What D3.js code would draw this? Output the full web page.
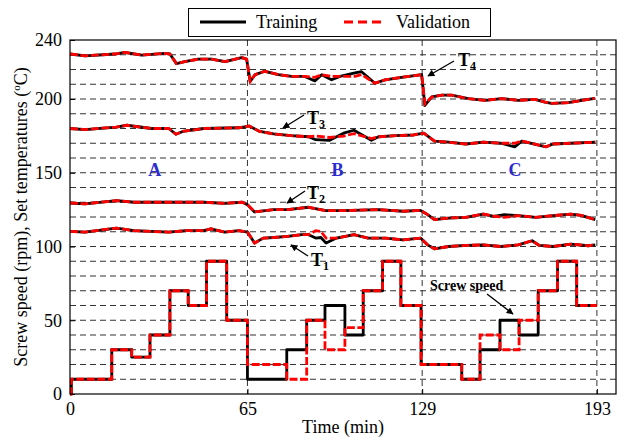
<!DOCTYPE html>
<html>
<head>
<meta charset="utf-8">
<script src="https://cdn.jsdelivr.net/npm/d3@7"></script>
<style>
  body { margin: 0; background: #fff; }
  svg text { font-family: "Liberation Serif", "Times New Roman", serif; }
</style>
</head>
<body>
<script>
// screw speed (rpm), step changes
var speedTime  = [0, 0.5, 15.3, 22.6, 29.3, 36.6, 43.3, 50, 57.4, 65, 79.4, 86.7, 93.4, 100.7, 107.4, 114.5, 121.2, 128.6, 143.5, 150.2, 157.5, 164.5, 171.5, 178.6, 185.6, 193];
var speedTrain = [0, 10, 30, 25, 40, 70, 60, 90, 50, 10, 30, 50, 60, 40, 70, 90, 60, 20, 10, 30, 50, 40, 70, 90, 60, 60];
var speedValid = [0, 10, 30, 25, 40, 70, 60, 90, 50, 20, 10, 50, 30, 45, 70, 90, 60, 20, 10, 40, 30, 50, 70, 90, 60, 60];

// T4
var t4Time  = [0, 5.5, 16.5, 20, 26.3, 34.8, 36.6, 39, 42, 47, 51.9, 56.8, 62.9, 64.7, 66, 67.8, 71.4, 76.3, 81.2, 86, 89.7, 92.2, 95.8, 98.9, 104.4, 106.8, 111.7, 115.4, 121.5, 128.8, 130, 132.5, 136.2, 139.8, 145.9, 152, 158.1, 164.2, 170.3, 174, 176.4, 182.5, 187.4, 192.3];
var t4Train = [230.5, 229.3, 230.5, 231.6, 229.8, 230.9, 230.5, 224, 225.3, 227, 227, 225.3, 228.1, 227, 211.9, 216.5, 218.8, 216.5, 215.3, 215.3, 212.3, 216.5, 213, 215.3, 217.7, 218.5, 210.7, 213, 214.7, 216.5, 195.6, 201.4, 202.6, 202.6, 200.2, 199.1, 200.2, 199.1, 199.8, 197.9, 197, 197.5, 199, 200.5];
var t4Valid = [230.5, 229.3, 230.5, 231.6, 229.8, 230.9, 230.5, 224, 225.3, 227, 227, 225.3, 228.1, 227, 211.9, 216.5, 218.8, 216.5, 215.3, 215.3, 214.7, 216.5, 215.3, 215.3, 215.3, 216.5, 210.7, 213, 214.7, 216.5, 196.7, 201.4, 202.6, 202.6, 200.2, 199.1, 200.2, 199.1, 199.8, 197.9, 197, 197.5, 199, 200.5];

// T3
var t3Time  = [0, 5.5, 17, 20.8, 29.8, 36.2, 38.8, 41.3, 49, 61.8, 64.4, 65.6, 69.5, 74.6, 81, 87.4, 90, 95.1, 100.2, 104, 110.4, 113, 119.4, 125.8, 129.6, 133.5, 138.6, 145, 151.4, 157.8, 162.9, 165.5, 174.4, 177, 183.4, 192.4];
var t3Train = [180, 179.3, 181, 182.2, 180, 180, 176.1, 178, 180, 180.5, 181.2, 181.7, 178, 176.3, 175.1, 174.4, 172.4, 172, 176.8, 178.8, 172, 174.4, 175.1, 175.6, 176.8, 171.5, 170.7, 169.5, 170.7, 170, 167.6, 171.5, 167.6, 169.5, 170, 170.7];
var t3Valid = [180, 179.3, 181, 182.2, 180, 180, 176.1, 178, 180, 180.5, 181.2, 181.7, 178, 176.3, 175.1, 174.4, 174.9, 173.9, 174.9, 176.5, 173.2, 174.4, 175.1, 175.6, 176.8, 171.5, 170.7, 169.5, 170.7, 170, 170, 171.5, 167.6, 169.5, 170, 170.7];

// T2
var t2Time  = [0, 5.5, 17, 23.4, 36.2, 49, 56.7, 63.1, 65, 67.6, 74.6, 79.7, 87.4, 93.8, 100.2, 113, 122, 128.4, 131, 133.5, 138.6, 145, 151.4, 155.2, 159.1, 164.2, 170.6, 177, 183.4, 187.2, 192.4];
var t2Train = [129.5, 128.9, 131.1, 130, 130, 130, 129.3, 130, 128.4, 123.4, 125, 125, 126.6, 124.3, 124.3, 125, 123.9, 124.5, 121.6, 118.2, 119.3, 119.8, 122, 120.5, 121.6, 120.9, 119.8, 120.9, 122, 121.1, 118.2];
var t2Valid = [129.5, 128.9, 131.1, 130, 130, 130, 129.3, 130, 128.4, 123.4, 125, 125, 126.6, 124.3, 124.3, 125, 123.9, 124.5, 121.6, 118.2, 119.3, 119.8, 122, 120.5, 119.8, 120.9, 119.8, 120.9, 122, 121.1, 118.2];

// T1
var t1Time  = [0, 5.5, 17, 23.4, 29.8, 36.2, 42.6, 49, 51.6, 56.7, 61.8, 65, 67.6, 70.8, 74.6, 79.7, 84.8, 87.4, 90, 91.9, 93.8, 97.6, 104, 109.2, 115.6, 122, 128.4, 131, 133.5, 138.6, 145, 151.4, 157.8, 164.2, 169.3, 171.9, 177, 183.4, 189.8, 192.4];
var t1Train = [110.2, 109.8, 112.5, 110.7, 110.2, 109.8, 110.7, 110.7, 112, 109.8, 110.7, 109.8, 102.3, 105.7, 106.1, 106.8, 108, 108, 105.7, 106.1, 102.3, 105.7, 108, 105.7, 105.7, 104.5, 105.7, 101.1, 98.4, 100, 100.7, 101.1, 100, 101.1, 103.9, 100.7, 100, 101.6, 100.5, 101.1];
var t1Valid = [110.2, 109.8, 112.5, 110.7, 110.2, 109.8, 110.7, 110.7, 112, 109.8, 110.7, 109.8, 102.3, 105.7, 106.1, 106.8, 108, 108, 110.7, 110.2, 105.7, 105.7, 108, 105.7, 105.7, 104.5, 105.7, 101.1, 98.4, 100, 100.7, 101.1, 100, 101.1, 103.9, 100.7, 100, 101.6, 100.5, 101.1];

var xTicks = [0, 65, 129, 193];
var yTicks = [0, 50, 100, 150, 200, 240];
var sectionNames = ["A", "B", "C"];
var sectionPos = [31, 98, 163];

var draw = function() {
  var margin = {top: 40, right: 9, bottom: 47, left: 70},
      width = 625 - margin.left - margin.right,
      height = 441 - margin.top - margin.bottom;

  var svg = d3.select("body").append("svg")
      .attr("width", 625)
      .attr("height", 441);

  var g = svg.append("g")
      .attr("transform", "translate(" + margin.left + "," + margin.top + ")");

  var x = d3.scaleLinear().domain([0, 200]).range([0, width]);
  var y = d3.scaleLinear().domain([0, 240]).range([height, 0]);

  // dashed grid
  g.append("g").selectAll("line")
      .data(d3.range(10, 240, 10))
    .enter().append("line")
      .attr("x1", 0).attr("x2", width)
      .attr("y1", function(d) { return y(d); })
      .attr("y2", function(d) { return y(d); })
      .attr("stroke", "#333")
      .attr("stroke-width", 1)
      .attr("stroke-dasharray", "6,4");

  g.append("g").selectAll("line")
      .data(xTicks.slice(1))
    .enter().append("line")
      .attr("x1", function(d) { return x(d); })
      .attr("x2", function(d) { return x(d); })
      .attr("y1", 0).attr("y2", height)
      .attr("stroke", "#333")
      .attr("stroke-width", 1)
      .attr("stroke-dasharray", "6,4");

  // axes
  var xAxis = g.append("g")
      .attr("transform", "translate(0," + height + ")")
      .call(d3.axisBottom(x).tickValues(xTicks).tickSizeInner(-5).tickSizeOuter(0).tickPadding(8));
  var yAxis = g.append("g")
      .call(d3.axisLeft(y).tickValues(yTicks).tickSizeInner(-5).tickSizeOuter(0).tickPadding(8));
  [xAxis, yAxis].forEach(function(a) {
    a.select(".domain").remove();
    a.selectAll("text")
      .attr("font-family", "Liberation Serif")
      .attr("font-size", 18)
      .attr("fill", "#000");
  });

  // lines
  var lineFor = function(times, vals, curve) {
    return d3.line()
      .x(function(d, i) { return x(times[i]); })
      .y(function(d) { return y(d); })
      .curve(curve)(vals);
  };

  var series = [
    [speedTime, speedTrain, speedValid, d3.curveStepAfter],
    [t4Time, t4Train, t4Valid, d3.curveLinear],
    [t3Time, t3Train, t3Valid, d3.curveLinear],
    [t2Time, t2Train, t2Valid, d3.curveLinear],
    [t1Time, t1Train, t1Valid, d3.curveLinear]
  ];

  for (var i = 0; i < series.length; i++) {
    g.append("path")
      .attr("d", lineFor(series[i][0], series[i][1], series[i][3]))
      .attr("fill", "none")
      .attr("stroke", "#000")
      .attr("stroke-width", 2.8)
      .attr("stroke-linejoin", "round");
  }
  for (var i = 0; i < series.length; i++) {
    g.append("path")
      .attr("d", lineFor(series[i][0], series[i][2], series[i][3]))
      .attr("fill", "none")
      .attr("stroke", "#ff0000")
      .attr("stroke-width", 2.8)
      .attr("stroke-dasharray", "8,2.5");
  }

  // frame
  g.append("rect")
    .attr("width", width).attr("height", height)
    .attr("fill", "none").attr("stroke", "#000").attr("stroke-width", 1.2);

  // section letters
  g.selectAll(".sec")
      .data(sectionNames)
    .enter().append("text")
      .attr("x", function(d, i) { return x(sectionPos[i]); })
      .attr("y", y(148))
      .attr("text-anchor", "middle")
      .attr("font-size", 18)
      .attr("font-weight", "bold")
      .attr("fill", "#2b2bd0")
      .text(function(d) { return d; });

  // annotations with arrows
  svg.append("defs").append("marker")
      .attr("id", "ah")
      .attr("viewBox", "0 0 10 10")
      .attr("refX", 9).attr("refY", 5)
      .attr("markerWidth", 9).attr("markerHeight", 7)
      .attr("markerUnits", "userSpaceOnUse")
      .attr("orient", "auto")
    .append("path")
      .attr("d", "M0,0L10,5L0,10z")
      .attr("fill", "#000");

  var notes = [
    {label: "T", sub: "4", tx: 458, ty: 66, ax1: 454, ay1: 61, ax2: 428, ay2: 76},
    {label: "T", sub: "3", tx: 307, ty: 124, ax1: 304, ay1: 115, ax2: 283, ay2: 128},
    {label: "T", sub: "2", tx: 307, ty: 199, ax1: 305, ay1: 191, ax2: 287, ay2: 203},
    {label: "T", sub: "1", tx: 311, ty: 266, ax1: 308, ay1: 256, ax2: 291, ay2: 245}
  ];

  notes.forEach(function(n) {
    svg.append("line")
      .attr("x1", n.ax1).attr("y1", n.ay1)
      .attr("x2", n.ax2).attr("y2", n.ay2)
      .attr("stroke", "#000").attr("stroke-width", 1.3)
      .attr("marker-end", "url(#ah)");
    var t = svg.append("text")
      .attr("x", n.tx).attr("y", n.ty)
      .attr("font-size", 18)
      .attr("font-weight", "bold");
    t.append("tspan").text(n.label);
    t.append("tspan").attr("font-size", 12).attr("dy", 4).text(n.sub);
  });

  svg.append("text")
    .attr("x", 430).attr("y", 290)
    .attr("font-size", 14)
    .attr("font-weight", "bold")
    .text("Screw speed");
  svg.append("line")
    .attr("x1", 487).attr("y1", 294)
    .attr("x2", 513).attr("y2", 314)
    .attr("stroke", "#000").attr("stroke-width", 1.3)
    .attr("marker-end", "url(#ah)");

  // axis titles
  svg.append("text")
    .attr("x", margin.left + x(100)).attr("y", 433)
    .attr("text-anchor", "middle")
    .attr("font-size", 18)
    .text("Time (min)");

  var yl = svg.append("text")
    .attr("transform", "translate(27," + (margin.top + height / 2) + ") rotate(-90)")
    .attr("text-anchor", "middle")
    .attr("font-size", 18);
  yl.append("tspan").text("Screw speed (rpm), Set temperatures (");
  yl.append("tspan").attr("font-size", 11).attr("dy", -7).text("o");
  yl.append("tspan").attr("dy", 7).text("C)");

  // legend
  var lg = svg.append("g");
  lg.append("rect")
    .attr("x", 188.5).attr("y", 8.5).attr("width", 302).attr("height", 28)
    .attr("fill", "#fff").attr("stroke", "#000").attr("stroke-width", 1);
  lg.append("line")
    .attr("x1", 200).attr("x2", 246).attr("y1", 22).attr("y2", 22)
    .attr("stroke", "#000").attr("stroke-width", 2.8);
  lg.append("text").attr("x", 256).attr("y", 28).attr("font-size", 18).text("Training");
  lg.append("line")
    .attr("x1", 344).attr("x2", 386).attr("y1", 22).attr("y2", 22)
    .attr("stroke", "#ff0000").attr("stroke-width", 2.8).attr("stroke-dasharray", "9,5");
  lg.append("text").attr("x", 396).attr("y", 28).attr("font-size", 18).text("Validation");
};

window.onload = function() {
  draw();
};
</script>
</body>
</html>
